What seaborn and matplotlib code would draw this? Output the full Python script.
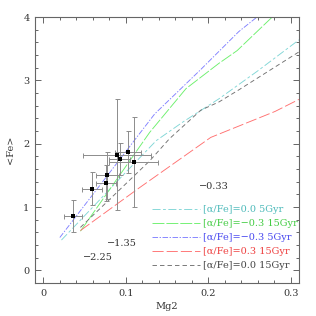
import numpy as np
import pandas as pd
import matplotlib
matplotlib.use("Agg")
import matplotlib.pyplot as plt
import seaborn as sns
from matplotlib.ticker import MultipleLocator, FixedLocator, FixedFormatter

# ---- data ----
obs_mg2 = [0.0363, 0.0595, 0.0758, 0.0774, 0.0894, 0.0926, 0.1026, 0.1094]
obs_fe = [0.86, 1.29, 1.38, 1.50, 1.83, 1.76, 1.87, 1.71]
obs_xerr = [0.011, 0.012, 0.012, 0.014, 0.041, 0.0125, 0.016, 0.030]
obs_yerr = [0.25, 0.26, 0.29, 0.37, 0.88, 0.25, 0.33, 0.71]

cyan_x = [0.022, 0.06, 0.10, 0.137, 0.17, 0.213, 0.26, 0.31]
cyan_y = [0.48, 1.00, 1.55, 2.05, 2.35, 2.71, 3.15, 3.64]
green_x = [0.045, 0.129, 0.173, 0.213, 0.235, 0.28]
green_y = [0.62, 2.18, 2.87, 3.27, 3.47, 4.03]
blue_x = [0.020, 0.135, 0.19, 0.237, 0.262]
blue_y = [0.52, 2.47, 3.16, 3.77, 4.03]
red_x = [0.045, 0.117, 0.203, 0.281, 0.31]
red_y = [0.63, 1.31, 2.10, 2.51, 2.70]
black_x = [0.045, 0.129, 0.153, 0.191, 0.213, 0.237, 0.31]
black_y = [0.68, 1.73, 2.08, 2.53, 2.66, 2.85, 3.45]

labels = ["[\u03b1/Fe]=0.0 5Gyr", "[\u03b1/Fe]=\u22120.3 15Gyr", "[\u03b1/Fe]=\u22120.3 5Gyr",
          "[\u03b1/Fe]=0.3 15Gyr", "[\u03b1/Fe]=0.0 15Gyr"]
annot_text = ["\u22120.33", "\u22121.35", "\u22122.25"]
annot_x = [0.189, 0.0775, 0.0475]
annot_y = [1.33, 0.43, 0.21]

xticks = [0, 0.1, 0.2, 0.3]
xticklabels = ["0", "0.1", "0.2", "0.3"]
yticks = [0, 1, 2, 3, 4]
yticklabels = ["0", "1", "2", "3", "4"]

# ---- style ----
sns.set_style("ticks")
plt.rcParams['font.family'] = ['DejaVu Serif', 'DejaVu Sans']
plt.rcParams['lines.scale_dashes'] = False

fig = plt.figure(figsize=(3.16, 3.16), dpi=100)
ax = fig.add_axes([0.111, 0.104, 0.835, 0.842])

series = [
    (cyan_x, cyan_y, "#80d6d6", "#4dbaba", (0, (5.8, 1.8, 2.0, 1.8))),
    (green_x, green_y, "#6cf06c", "#44cc44", (0, (8.6, 1.4))),
    (blue_x, blue_y, "#8080ff", "#4848f0", (0, (4.0, 1.1, 1.0, 1.1))),
    (red_x, red_y, "#ff7070", "#ee4040", (0, (8.0, 2.2))),
    (black_x, black_y, "#707070", "#444444", (0, (3.2, 2.2))),
]

handles = []
for (xs, ys, lc, tc, ls), lab in zip(series, labels):
    df = pd.DataFrame({"x": xs, "y": ys})
    sns.lineplot(data=df, x="x", y="y", ax=ax, color=lc, lw=0.65,
                 linestyle=ls, sort=False, estimator=None)
    handles.append(ax.lines[-1])

ax.errorbar(obs_mg2, obs_fe, xerr=obs_xerr, yerr=obs_yerr, fmt='none',
            ecolor='#8c8c8c', elinewidth=0.7, capsize=1.8, capthick=0.7, zorder=3)
sns.scatterplot(x=obs_mg2, y=obs_fe, ax=ax, color='black', marker='s', s=10,
                edgecolor='black', linewidth=0, zorder=4)

for t, x, y in zip(annot_text, annot_x, annot_y):
    ax.text(x, y, t, ha='left', va='center', fontsize=7, color='#333333')

leg = ax.legend(handles, labels, loc='upper left', bbox_to_anchor=(0.443, 0.294),
                frameon=False, fontsize=7, handlelength=4.9, handletextpad=0.35,
                labelspacing=0.52, borderpad=0, borderaxespad=0)
for txt, s in zip(leg.get_texts(), series):
    txt.set_color(s[3])

ax.set_xlim(-0.01, 0.31)
ax.set_ylim(-0.2, 4.0)
ax.xaxis.set_major_locator(FixedLocator(xticks))
ax.xaxis.set_major_formatter(FixedFormatter(xticklabels))
ax.yaxis.set_major_locator(FixedLocator(yticks))
ax.yaxis.set_major_formatter(FixedFormatter(yticklabels))
ax.xaxis.set_minor_locator(MultipleLocator(0.02))
ax.yaxis.set_minor_locator(MultipleLocator(0.2))
ax.tick_params(which='both', direction='in', top=True, right=True,
               color='#666666', labelcolor='#333333', labelsize=7, width=0.7)
ax.tick_params(which='major', length=4.5, pad=4)
ax.tick_params(which='minor', length=2.3)
for sp in ax.spines.values():
    sp.set_color('#666666')
    sp.set_linewidth(0.8)

ax.set_xlabel("Mg2", fontsize=7, color='#333333', labelpad=3)
ax.set_ylabel("<Fe>", fontsize=7, color='#333333', labelpad=6)

fig.savefig("out.png", dpi=100)
